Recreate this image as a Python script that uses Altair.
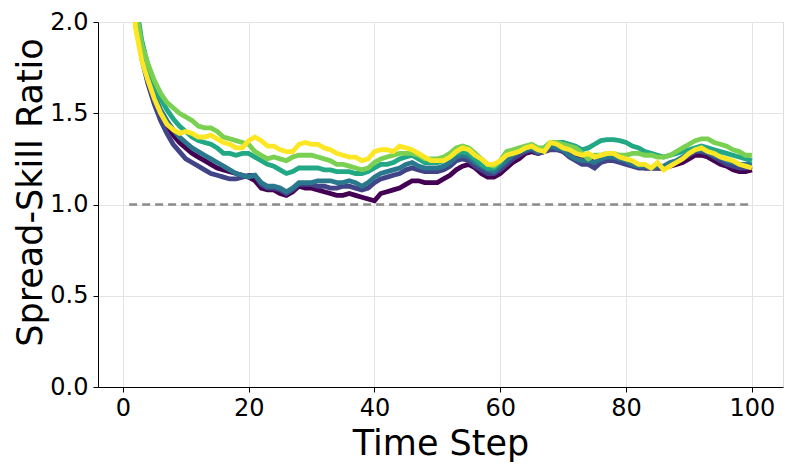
import altair as alt
import pandas as pd

steps = list(range(1, 101))

series_names = ["s0", "s1", "s2", "s3", "s4", "s5"]
series_colors = ["#440154", "#414487", "#2a788e", "#22a884", "#7ad151", "#fde725"]

s0 = [2.90, 2.06, 1.82, 1.69, 1.58, 1.49, 1.43, 1.38, 1.34, 1.31,
      1.28, 1.26, 1.24, 1.22, 1.20, 1.19, 1.18, 1.17, 1.16, 1.15,
      1.13, 1.09, 1.08, 1.08, 1.06, 1.05, 1.07, 1.10, 1.09, 1.09,
      1.08, 1.07, 1.06, 1.05, 1.05, 1.06, 1.05, 1.04, 1.03, 1.02,
      1.06, 1.07, 1.08, 1.09, 1.11, 1.13, 1.13, 1.12, 1.12, 1.12,
      1.14, 1.16, 1.19, 1.21, 1.22, 1.20, 1.17, 1.15, 1.15, 1.17,
      1.20, 1.23, 1.25, 1.28, 1.29, 1.28, 1.29, 1.31, 1.31, 1.29,
      1.28, 1.26, 1.25, 1.25, 1.23, 1.25, 1.26, 1.26, 1.24, 1.23,
      1.22, 1.21, 1.20, 1.20, 1.20, 1.20, 1.21, 1.22, 1.23, 1.25,
      1.27, 1.27, 1.26, 1.24, 1.22, 1.21, 1.19, 1.18, 1.18, 1.19]

s1 = [2.90, 2.05, 1.80, 1.66, 1.55, 1.46, 1.39, 1.33, 1.29, 1.25,
      1.23, 1.21, 1.19, 1.17, 1.16, 1.15, 1.14, 1.14, 1.15, 1.16,
      1.16, 1.11, 1.09, 1.09, 1.08, 1.06, 1.08, 1.11, 1.11, 1.11,
      1.10, 1.10, 1.09, 1.09, 1.10, 1.10, 1.09, 1.08, 1.09, 1.12,
      1.14, 1.15, 1.16, 1.17, 1.19, 1.20, 1.19, 1.18, 1.18, 1.18,
      1.19, 1.21, 1.24, 1.25, 1.24, 1.21, 1.19, 1.17, 1.17, 1.19,
      1.22, 1.25, 1.27, 1.29, 1.30, 1.28, 1.29, 1.30, 1.30, 1.29,
      1.26, 1.24, 1.22, 1.22, 1.20, 1.23, 1.24, 1.24, 1.23, 1.22,
      1.21, 1.20, 1.20, 1.20, 1.20, 1.20, 1.22, 1.23, 1.25, 1.27,
      1.29, 1.29, 1.28, 1.26, 1.24, 1.22, 1.21, 1.20, 1.20, 1.21]

s2 = [2.90, 2.08, 1.84, 1.71, 1.60, 1.52, 1.46, 1.41, 1.37, 1.34,
      1.31, 1.29, 1.27, 1.25, 1.23, 1.21, 1.19, 1.17, 1.16, 1.15,
      1.16, 1.12, 1.10, 1.10, 1.09, 1.07, 1.09, 1.12, 1.12, 1.12,
      1.13, 1.13, 1.13, 1.12, 1.12, 1.13, 1.12, 1.10, 1.12, 1.15,
      1.17, 1.18, 1.19, 1.20, 1.22, 1.23, 1.21, 1.20, 1.20, 1.20,
      1.21, 1.23, 1.26, 1.27, 1.26, 1.23, 1.21, 1.19, 1.18, 1.21,
      1.24, 1.27, 1.29, 1.30, 1.31, 1.29, 1.30, 1.32, 1.31, 1.30,
      1.27, 1.25, 1.24, 1.24, 1.23, 1.25, 1.26, 1.26, 1.25, 1.24,
      1.22, 1.21, 1.21, 1.20, 1.21, 1.21, 1.23, 1.24, 1.26, 1.28,
      1.30, 1.30, 1.29, 1.27, 1.26, 1.24, 1.23, 1.22, 1.22, 1.22]

s3 = [2.90, 2.12, 1.90, 1.76, 1.66, 1.58, 1.52, 1.47, 1.43, 1.40,
      1.37, 1.35, 1.34, 1.33, 1.31, 1.28, 1.28, 1.27, 1.28, 1.28,
      1.26, 1.24, 1.22, 1.21, 1.19, 1.17, 1.18, 1.20, 1.20, 1.20,
      1.20, 1.19, 1.19, 1.18, 1.18, 1.18, 1.17, 1.17, 1.18, 1.20,
      1.22, 1.22, 1.23, 1.25, 1.26, 1.27, 1.25, 1.23, 1.23, 1.23,
      1.24, 1.26, 1.28, 1.29, 1.28, 1.25, 1.22, 1.20, 1.20, 1.23,
      1.28, 1.29, 1.30, 1.31, 1.32, 1.30, 1.31, 1.34, 1.34, 1.34,
      1.33, 1.32, 1.30, 1.31, 1.33, 1.35, 1.355, 1.355, 1.35, 1.34,
      1.32, 1.31, 1.29, 1.28, 1.27, 1.26, 1.27, 1.28, 1.29, 1.30,
      1.31, 1.32, 1.31, 1.30, 1.29, 1.28, 1.27, 1.26, 1.25, 1.24]

s4 = [2.80, 2.08, 1.88, 1.77, 1.68, 1.61, 1.56, 1.53, 1.50, 1.48,
      1.46, 1.43, 1.42, 1.42, 1.40, 1.37, 1.36, 1.35, 1.34, 1.33,
      1.29, 1.27, 1.25, 1.26, 1.25, 1.24, 1.26, 1.27, 1.27, 1.27,
      1.26, 1.25, 1.24, 1.22, 1.22, 1.21, 1.20, 1.19, 1.20, 1.23,
      1.25, 1.26, 1.27, 1.28, 1.28, 1.28, 1.27, 1.25, 1.25, 1.25,
      1.26, 1.28, 1.31, 1.32, 1.31, 1.28, 1.25, 1.22, 1.21, 1.24,
      1.29, 1.30, 1.31, 1.32, 1.33, 1.31, 1.31, 1.34, 1.34, 1.33,
      1.32, 1.31, 1.28, 1.25, 1.27, 1.27, 1.28, 1.28, 1.27, 1.27,
      1.28, 1.28, 1.27, 1.27, 1.26, 1.26, 1.27, 1.29, 1.31, 1.33,
      1.35, 1.36, 1.36, 1.34, 1.33, 1.32, 1.30, 1.29, 1.27, 1.27]

s5 = [2.60, 1.97, 1.79, 1.68, 1.58, 1.50, 1.44, 1.41, 1.39, 1.40,
      1.39, 1.37, 1.37, 1.38, 1.36, 1.34, 1.33, 1.31, 1.31, 1.35,
      1.37, 1.35, 1.32, 1.32, 1.30, 1.29, 1.29, 1.33, 1.34, 1.33,
      1.33, 1.31, 1.30, 1.28, 1.27, 1.26, 1.26, 1.24, 1.25, 1.29,
      1.30, 1.30, 1.29, 1.32, 1.31, 1.30, 1.28, 1.26, 1.24, 1.24,
      1.24, 1.26, 1.29, 1.31, 1.30, 1.27, 1.25, 1.22, 1.22, 1.24,
      1.27, 1.28, 1.29, 1.31, 1.32, 1.30, 1.29, 1.34, 1.33, 1.31,
      1.30, 1.28, 1.27, 1.28, 1.26, 1.27, 1.28, 1.28, 1.26, 1.25,
      1.24, 1.22, 1.22, 1.20, 1.23, 1.19, 1.21, 1.23, 1.25, 1.28,
      1.30, 1.31, 1.29, 1.28, 1.26, 1.25, 1.24, 1.22, 1.21, 1.20]

ref_x = [1, 100]
ref_y = [1.0, 1.0]

x_ticks = [0, 20, 40, 60, 80, 100]
y_ticks = [0.0, 0.5, 1.0, 1.5, 2.0]

all_series = [s0, s1, s2, s3, s4, s5]
rows = []
for name, vals in zip(series_names, all_series):
    for t, v in zip(steps, vals):
        rows.append({"step": t, "ratio": v, "series": name})
df = pd.DataFrame(rows)
ref_df = pd.DataFrame({"step": ref_x, "ratio": ref_y})

x_scale = alt.Scale(domain=[-3.95, 104.95], nice=False, zero=False)
y_scale = alt.Scale(domain=[0, 2.0], nice=False)

x_axis = alt.Axis(values=x_ticks, title="Time Step", labelFontSize=24, titleFontSize=35,
                  labelFont="DejaVu Sans", titleFont="DejaVu Sans", titleFontWeight="normal",
                  labelColor="black", titleColor="black", tickColor="black", domainColor="black",
                  tickSize=5, labelPadding=4, titlePadding=6, gridColor="#e4e4e4", gridWidth=1,
                  labelFlush=False)
y_axis = alt.Axis(values=y_ticks, format=".1f", title="Spread-Skill Ratio", labelFontSize=24,
                  titleFontSize=35, labelFont="DejaVu Sans", titleFont="DejaVu Sans",
                  titleFontWeight="normal", labelColor="black", titleColor="black",
                  tickColor="black", domainColor="black", tickSize=5, labelPadding=5,
                  titlePadding=1, titleY=170, gridColor="#e4e4e4", gridWidth=1, labelFlush=False)

ref = alt.Chart(ref_df).mark_line(
    color="#808080", strokeDash=[8, 5], strokeWidth=2.5, opacity=0.9
).encode(
    x=alt.X("step:Q", scale=x_scale, axis=x_axis),
    y=alt.Y("ratio:Q", scale=y_scale, axis=y_axis),
)

lines = alt.Chart(df).mark_line(clip=True, strokeWidth=4.8).encode(
    x=alt.X("step:Q", scale=x_scale, axis=x_axis),
    y=alt.Y("ratio:Q", scale=y_scale, axis=y_axis),
    color=alt.Color("series:N", scale=alt.Scale(domain=series_names, range=series_colors), legend=None),
    order=alt.Order("step:Q"),
)

chart = alt.layer(ref, lines).properties(
    width=685, height=365,
    autosize=alt.AutoSizeParams(type="none"),
    padding={"left": 90, "top": 14, "right": 2, "bottom": 80},
).configure_view(stroke="black", strokeWidth=1.2).configure(background="white")

chart.save("out.html", embed_options={"renderer": "svg", "actions": False})
